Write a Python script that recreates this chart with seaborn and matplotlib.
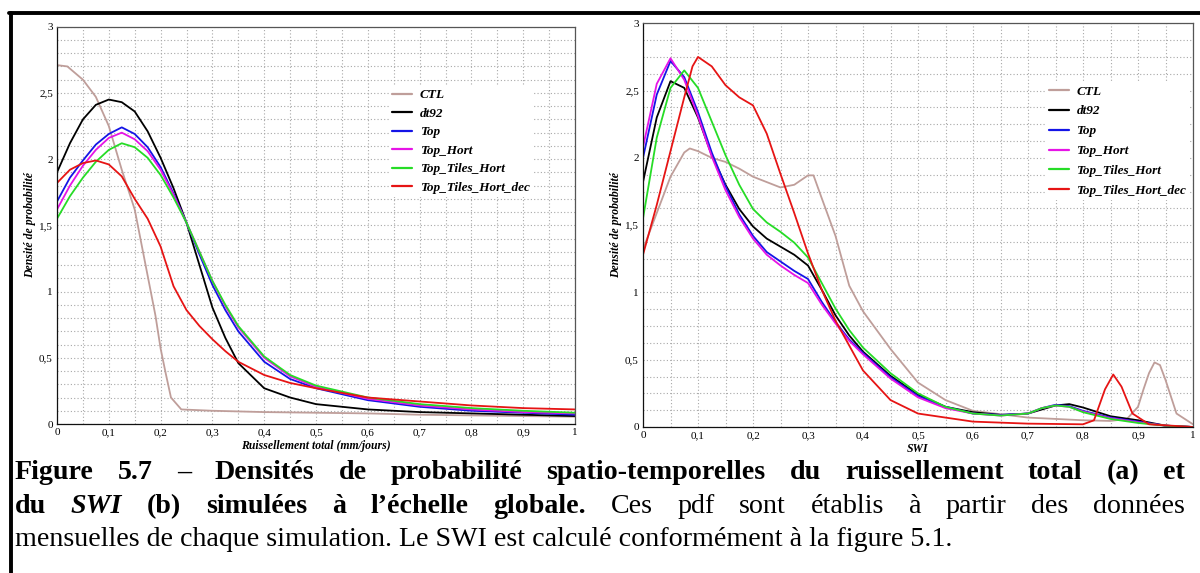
import numpy as np
import pandas as pd
import matplotlib
matplotlib.use("Agg")
import matplotlib.pyplot as plt
from matplotlib.lines import Line2D
from matplotlib.ticker import MultipleLocator
import seaborn as sns

# simulations and colours
SIMS = ["CTL", "dt92", "Top", "Top_Hort", "Top_Tiles_Hort", "Top_Tiles_Hort_dec"]
COLORS = ["#bf9e9a", "#000000", "#1414e6", "#e614e6", "#26dc26", "#e61414"]

# (a) total runoff pdf
run_x = [0, 0.025, 0.05, 0.075, 0.1, 0.125, 0.15, 0.175, 0.2, 0.225, 0.25, 0.275,
         0.3, 0.325, 0.35, 0.4, 0.45, 0.5, 0.6, 0.7, 0.8, 0.9, 1.0]
ctl_run_x = [0, 0.02, 0.05, 0.075, 0.1, 0.125, 0.15, 0.175, 0.19, 0.2, 0.21, 0.22,
             0.24, 0.3, 0.4, 0.5, 0.6, 0.7, 0.8, 0.9, 1.0]
ctl_run = [2.71, 2.70, 2.60, 2.47, 2.25, 1.92, 1.62, 1.12, 0.82, 0.57, 0.38, 0.2,
           0.11, 0.10, 0.09, 0.085, 0.08, 0.07, 0.065, 0.06, 0.055]
dt92_run = [1.90, 2.12, 2.30, 2.41, 2.45, 2.43, 2.36, 2.21, 2.01, 1.78, 1.52, 1.20,
            0.88, 0.65, 0.46, 0.27, 0.20, 0.15, 0.11, 0.09, 0.08, 0.07, 0.06]
top_run = [1.68, 1.86, 1.99, 2.11, 2.19, 2.24, 2.19, 2.09, 1.94, 1.74, 1.52, 1.28,
           1.05, 0.86, 0.70, 0.47, 0.34, 0.27, 0.18, 0.13, 0.10, 0.085, 0.07]
tophort_run = [1.62, 1.80, 1.95, 2.07, 2.16, 2.20, 2.15, 2.06, 1.92, 1.73, 1.52, 1.30,
               1.08, 0.89, 0.73, 0.50, 0.36, 0.28, 0.19, 0.14, 0.11, 0.09, 0.08]
tiles_run = [1.55, 1.72, 1.86, 1.98, 2.07, 2.12, 2.09, 2.01, 1.88, 1.71, 1.52, 1.30,
             1.08, 0.90, 0.74, 0.51, 0.37, 0.29, 0.20, 0.15, 0.12, 0.10, 0.085]
dec_run = [1.82, 1.92, 1.97, 1.99, 1.96, 1.87, 1.70, 1.55, 1.34, 1.04, 0.86, 0.74,
           0.64, 0.55, 0.47, 0.37, 0.31, 0.27, 0.20, 0.17, 0.14, 0.12, 0.11]

# (b) SWI pdf
swi_x = [0, 0.025, 0.05, 0.075, 0.1, 0.125, 0.15, 0.175, 0.2, 0.225, 0.25, 0.275,
         0.3, 0.325, 0.35, 0.375, 0.4, 0.45, 0.5, 0.55, 0.6, 0.65, 0.7, 0.725,
         0.75, 0.775, 0.8, 0.85, 0.9, 0.95, 1.0]
dt92_swi = [1.82, 2.30, 2.57, 2.52, 2.30, 2.02, 1.80, 1.62, 1.49, 1.40, 1.34, 1.28,
            1.20, 1.02, 0.83, 0.68, 0.56, 0.38, 0.24, 0.15, 0.11, 0.09, 0.10, 0.13,
            0.16, 0.17, 0.145, 0.08, 0.05, 0.01, 0.0]
top_swi = [2.00, 2.47, 2.72, 2.60, 2.34, 2.04, 1.79, 1.58, 1.42, 1.30, 1.23, 1.16,
           1.10, 0.93, 0.78, 0.65, 0.55, 0.37, 0.23, 0.15, 0.10, 0.09, 0.10, 0.14,
           0.165, 0.155, 0.12, 0.07, 0.04, 0.01, 0.0]
tophort_swi = [2.08, 2.55, 2.74, 2.58, 2.31, 2.01, 1.76, 1.56, 1.40, 1.28, 1.20, 1.13,
               1.07, 0.91, 0.77, 0.64, 0.54, 0.36, 0.22, 0.14, 0.10, 0.085, 0.10, 0.14,
               0.16, 0.15, 0.115, 0.065, 0.035, 0.01, 0.0]
tiles_swi = [1.55, 2.15, 2.52, 2.65, 2.52, 2.27, 2.02, 1.80, 1.62, 1.52, 1.45, 1.37,
             1.26, 1.07, 0.88, 0.72, 0.59, 0.40, 0.25, 0.15, 0.10, 0.085, 0.10, 0.14,
             0.16, 0.15, 0.11, 0.06, 0.03, 0.01, 0.0]
ctl_swi_x = [0, 0.025, 0.05, 0.075, 0.085, 0.1, 0.125, 0.15, 0.175, 0.2, 0.225, 0.25,
             0.275, 0.3, 0.31, 0.325, 0.35, 0.375, 0.4, 0.45, 0.5, 0.55, 0.6, 0.7,
             0.8, 0.85, 0.88, 0.9, 0.91, 0.92, 0.93, 0.94, 0.95, 0.97, 1.0]
ctl_swi = [1.32, 1.59, 1.86, 2.04, 2.07, 2.05, 2.00, 1.97, 1.92, 1.86, 1.82, 1.78,
           1.80, 1.87, 1.87, 1.70, 1.42, 1.05, 0.86, 0.58, 0.33, 0.20, 0.12, 0.07,
           0.05, 0.045, 0.06, 0.15, 0.28, 0.40, 0.48, 0.46, 0.35, 0.10, 0.02]
dec_swi_x = [0, 0.025, 0.05, 0.075, 0.09, 0.1, 0.125, 0.15, 0.175, 0.2, 0.225, 0.25,
             0.275, 0.3, 0.325, 0.35, 0.4, 0.45, 0.5, 0.6, 0.7, 0.8, 0.82, 0.84,
             0.855, 0.87, 0.89, 0.92, 1.0]
dec_swi = [1.28, 1.65, 2.05, 2.45, 2.68, 2.75, 2.68, 2.54, 2.45, 2.39, 2.18, 1.88,
           1.59, 1.29, 1.02, 0.79, 0.42, 0.20, 0.10, 0.04, 0.025, 0.02, 0.05, 0.28,
           0.39, 0.30, 0.10, 0.02, 0.0]

x_ticks = [0, 0.1, 0.2, 0.3, 0.4, 0.5, 0.6, 0.7, 0.8, 0.9, 1]
x_tick_labels = ["0", "0,1", "0,2", "0,3", "0,4", "0,5", "0,6", "0,7", "0,8", "0,9", "1"]
y_ticks = [0, 0.5, 1, 1.5, 2, 2.5, 3]
y_tick_labels = ["0", "0,5", "1", "1,5", "2", "2,5", "3"]


def long_frame(series):
    parts = []
    for name, xs, ys in series:
        parts.append(pd.DataFrame({"x": xs, "y": ys, "sim": name}))
    return pd.concat(parts, ignore_index=True)


df_run = long_frame([
    ("CTL", ctl_run_x, ctl_run), ("dt92", run_x, dt92_run), ("Top", run_x, top_run),
    ("Top_Hort", run_x, tophort_run), ("Top_Tiles_Hort", run_x, tiles_run),
    ("Top_Tiles_Hort_dec", run_x, dec_run),
])
df_swi = long_frame([
    ("CTL", ctl_swi_x, ctl_swi), ("dt92", swi_x, dt92_swi), ("Top", swi_x, top_swi),
    ("Top_Hort", swi_x, tophort_swi), ("Top_Tiles_Hort", swi_x, tiles_swi),
    ("Top_Tiles_Hort_dec", dec_swi_x, dec_swi),
])

sns.set_style("white")
plt.rcParams["font.family"] = ["Liberation Serif", "DejaVu Serif"]
plt.rcParams["text.color"] = "black"
plt.rcParams["axes.labelcolor"] = "black"
plt.rcParams["xtick.color"] = "black"
plt.rcParams["ytick.color"] = "black"

W, H = 1200, 573
fig = plt.figure(figsize=(12, 5.73), dpi=100)
ax1 = fig.add_axes([57 / W, (H - 424) / H, 518 / W, 397.3 / H])
ax2 = fig.add_axes([643 / W, (H - 427) / H, 550 / W, 403.7 / H])

palette = dict(zip(SIMS, COLORS))


def draw_panel(ax, df, xlabel, y_minor, legend_anchor, label_gap):
    sns.lineplot(data=df, x="x", y="y", hue="sim", hue_order=SIMS, palette=palette,
                 estimator=None, linewidth=1.3, ax=ax)
    ax.set_xlim(0, 1)
    ax.set_ylim(0, 3)
    ax.set_xticks(x_ticks)
    ax.set_xticklabels(x_tick_labels)
    ax.set_yticks(y_ticks)
    ax.set_yticklabels(y_tick_labels)
    ax.xaxis.set_minor_locator(MultipleLocator(0.05))
    ax.yaxis.set_minor_locator(MultipleLocator(y_minor))
    ax.grid(True, which="both", linestyle=(0, (1, 2)), color="#a8a8a8", linewidth=0.8)
    ax.tick_params(which="both", length=0, labelsize=8, pad=3)
    for s in ax.spines.values():
        s.set_color("#555555")
        s.set_linewidth(0.9)
    ax.spines["left"].set_color("#111111")
    ax.spines["bottom"].set_color("#111111")
    ax.set_xlabel(xlabel, fontsize=8.5, fontweight="bold", fontstyle="italic", labelpad=2)
    ax.set_ylabel("Densité de probabilité", fontsize=8.5, fontweight="bold",
                  fontstyle="italic", labelpad=2)
    handles, labels = ax.get_legend_handles_labels()
    leg = ax.legend(handles, labels, loc="upper left", bbox_to_anchor=legend_anchor,
                    handlelength=1.5, handletextpad=0.6,
                    labelspacing=label_gap, borderpad=0.2, borderaxespad=0,
                    frameon=True, framealpha=1, facecolor="white", edgecolor="none",
                    prop={"weight": "bold", "style": "italic", "size": 9.5})
    for ln in leg.get_lines():
        ln.set_linewidth(1.6)


draw_panel(ax1, df_run, "Ruissellement total (mm/jours)", 0.1, (0.642, 0.85), 0.48)
draw_panel(ax2, df_swi, "SWI", 0.125, (0.733, 0.853), 0.58)

# page frame
fig.add_artist(Line2D([9 / W, 1], [1 - 12.5 / H, 1 - 12.5 / H], color="black",
                      linewidth=2.8, transform=fig.transFigure))
fig.add_artist(Line2D([11 / W, 11 / W], [0, 1 - 12.5 / H], color="black",
                      linewidth=2.8, transform=fig.transFigure))

# caption, justified lines
CAP_FS = 20.2
renderer = fig.canvas.get_renderer()


def place_line(words, y_px, x0=15, x1=1185):
    texts = []
    for w, weight, style in words:
        texts.append(fig.text(0, 1 - y_px / H, w, fontsize=CAP_FS, fontweight=weight,
                              fontstyle=style, va="baseline", ha="left", color="black"))
    widths = [t.get_window_extent(renderer).width for t in texts]
    gap = (x1 - x0 - sum(widths)) / (len(texts) - 1)
    x = x0
    for t, w in zip(texts, widths):
        t.set_x(x / W)
        x += w + gap


line1 = "Figure 5.7 – Densités de probabilité spatio-temporelles du ruissellement total (a) et"
place_line([(w, "bold", "normal") for w in line1.split(" ")], 479)

line2 = [("du", "bold", "normal"), ("SWI", "bold", "italic"), ("(b)", "bold", "normal")]
line2 += [(w, "bold", "normal") for w in "simulées à l’échelle globale.".split(" ")]
line2 += [(w, "normal", "normal") for w in "Ces pdf sont établis à partir des données".split(" ")]
place_line(line2, 513)

fig.text(15 / W, 1 - 546 / H,
         "mensuelles de chaque simulation. Le SWI est calculé conformément à la figure 5.1.",
         fontsize=CAP_FS, va="baseline", ha="left", color="black")

fig.savefig("out.png", dpi=100, facecolor="white")
